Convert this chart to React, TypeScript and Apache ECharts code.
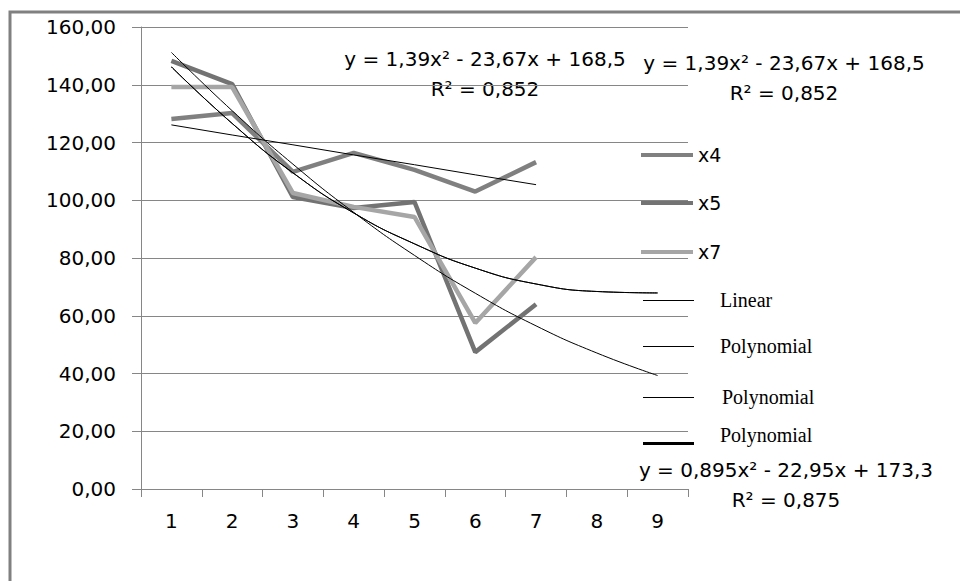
import React, { useEffect, useRef } from "react";
import * as echarts from "echarts";

const categories = ["1", "2", "3", "4", "5", "6", "7", "8", "9"];
const x4Values = [128.1, 130.2, 109.8, 116.4, 110.5, 103, 113.2];
const x5Values = [148.3, 140.2, 101.1, 97.3, 99.4, 47.4, 64];
const x7Values = [139.2, 139.2, 102.5, 97.7, 94.2, 57.5, 80.3];
const linearX4 = [126.1, 122.6, 119.2, 115.7, 112.3, 108.8, 105.4];
const polyUpper = [146.2, 126.6, 109.5, 95.6, 84.9, 76.5, 71.0, 68.4, 67.9];
const polyLower = [151.2, 131.0, 112.5, 95.8, 80.9, 67.8, 56.5, 47.1, 39.3];
const yTicks = { min: 0, max: 160, interval: 20 };
const equations = [
  { eq: "y = 1,39x² - 23,67x + 168,5", r2: "R² = 0,852" },
  { eq: "y = 1,39x² - 23,67x + 168,5", r2: "R² = 0,852" },
  { eq: "y = 0,895x² - 22,95x + 173,3", r2: "R² = 0,875" },
];

const SANS = "DejaVu Sans";
const SERIF = "Liberation Serif";
const GRID = "#868686";

export default function App() {
  const ref = useRef<HTMLDivElement>(null);
  useEffect(() => {
    if (!ref.current) return;
    const chart = echarts.init(ref.current, undefined, { renderer: "svg" });

    const dataLegend = (name: string, color: string, cy: number) => ({
      data: [{ name, icon: "rect", itemStyle: { color } }],
      left: 641,
      top: cy - 10,
      padding: 0,
      itemWidth: 52,
      itemHeight: 4,
      selectedMode: false,
      textStyle: { fontFamily: SANS, fontSize: 19, color: "#000", lineHeight: 20 },
    });
    const thinIcon = "path://M0,0L0.01,0ZM0,10H51V11H0ZM0,20L0.01,20Z";
    const thickIcon = "path://M0,0L0.01,0ZM0,17H51V20H0Z";
    const trendLegend = (name: string, cy: number, icon: string, textX: number) => ({
      data: [{ name, icon, itemStyle: { color: "#000" } }],
      left: 643,
      top: cy - 10,
      padding: 0,
      itemWidth: 51,
      itemHeight: 20,
      selectedMode: false,
      textStyle: {
        fontFamily: SERIF,
        fontSize: 20,
        color: "#000",
        lineHeight: 20,
        padding: [0, 0, 0, textX - 643 - 51 - 5],
      },
    });

    chart.setOption({
      animation: false,
      backgroundColor: "#fff",
      grid: { left: 141, top: 27, right: 272, bottom: 92, containLabel: false },
      xAxis: {
        type: "category",
        data: categories,
        boundaryGap: true,
        axisLine: { lineStyle: { color: GRID, width: 1 } },
        axisTick: { show: true, length: 8, lineStyle: { color: GRID } },
        axisLabel: { margin: 22, fontFamily: SANS, fontSize: 20, color: "#000" },
        splitLine: { show: false },
      },
      yAxis: {
        type: "value",
        min: yTicks.min,
        max: yTicks.max,
        interval: yTicks.interval,
        axisLine: { show: true, lineStyle: { color: GRID, width: 1 } },
        axisTick: { show: true, length: 9, lineStyle: { color: GRID } },
        axisLabel: {
          margin: 25,
          fontFamily: SANS,
          fontSize: 20,
          color: "#000",
          formatter: (v: number) => v.toFixed(2).replace(".", ","),
        },
        splitLine: { show: true, lineStyle: { color: GRID, width: 1 } },
      },
      legend: [
        dataLegend("x4", "#808080", 155),
        dataLegend("x5", "#737373", 203),
        dataLegend("x7", "#a6a6a6", 252),
        trendLegend("Linear", 300, thinIcon, 720),
        trendLegend("Polynomial", 346, thinIcon, 720),
        trendLegend("Polynomial", 397, thinIcon, 722),
        trendLegend("Polynomial", 435, thickIcon, 720),
      ],
      series: [
        {
          name: "x4",
          type: "line",
          data: x4Values,
          symbol: "none",
          lineStyle: { color: "#808080", width: 4.5 },
          itemStyle: { color: "#808080" },
        },
        {
          name: "x5",
          type: "line",
          data: x5Values,
          symbol: "none",
          lineStyle: { color: "#737373", width: 4.5 },
          itemStyle: { color: "#737373" },
        },
        {
          name: "x7",
          type: "line",
          data: x7Values,
          symbol: "none",
          lineStyle: { color: "#a6a6a6", width: 4.5 },
          itemStyle: { color: "#a6a6a6" },
        },
        {
          name: "Linear",
          type: "line",
          data: linearX4,
          symbol: "none",
          lineStyle: { color: "#000", width: 1 },
          itemStyle: { color: "#000" },
        },
        {
          name: "Polynomial",
          type: "line",
          data: polyLower,
          symbol: "none",
          smooth: true,
          lineStyle: { color: "#000", width: 1 },
          itemStyle: { color: "#000" },
        },
        {
          name: "Polynomial",
          type: "line",
          data: polyUpper,
          symbol: "none",
          smooth: true,
          lineStyle: { color: "#000", width: 1 },
          itemStyle: { color: "#000" },
        },
        {
          name: "Polynomial",
          type: "line",
          data: polyUpper,
          symbol: "none",
          smooth: true,
          lineStyle: { color: "#000", width: 1 },
          itemStyle: { color: "#000" },
        },
      ],
      graphic: [
        {
          type: "rect",
          silent: true,
          z: -10,
          shape: { x: 10, y: 12, width: 1000, height: 700 },
          style: { fill: "none", stroke: "#808080", lineWidth: 3 },
        },
        ...[
          [485, 59],
          [784, 63],
          [786, 470],
        ].flatMap(([cx, cy], i) => [
          {
            type: "text",
            x: cx,
            y: cy,
            style: {
              text: equations[i].eq,
              fontFamily: SANS,
              fontSize: 20,
              fill: "#000",
              align: "center",
              verticalAlign: "middle",
            },
          },
          {
            type: "text",
            x: cx,
            y: cy + 30,
            style: {
              text: equations[i].r2,
              fontFamily: SANS,
              fontSize: 20,
              fill: "#000",
              align: "center",
              verticalAlign: "middle",
            },
          },
        ]),
      ],
    });
    return () => chart.dispose();
  }, []);
  return (
    <div
      ref={ref}
      style={{ position: "fixed", left: 0, top: 0, width: 960, height: 581 }}
    />
  );
}
